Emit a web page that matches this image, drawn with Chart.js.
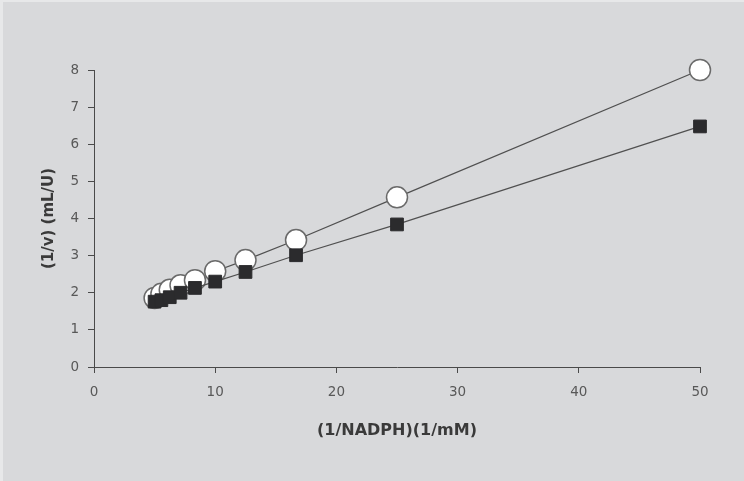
<!DOCTYPE html>
<html>
<head>
<meta charset="utf-8">
<script src="https://cdn.jsdelivr.net/npm/chart.js@4"></script>
<style>
    html, body { margin: 0; padding: 0; background: #e7e8e9; }
    #wrap { position: absolute; left: 3px; top: 2px; width: 741px; height: 479px; background: #d8d9db; }
</style>
</head>
<body>
<div id="wrap"><canvas id="chart" width="741" height="479"></canvas></div>
<script>
// 1/[NADPH] (1/mM)
const xValues = [5, 5.56, 6.25, 7.14, 8.33, 10, 12.5, 16.67, 25, 50];
// 1/v (mL/U), open circles
const circleValues = [1.86, 1.97, 2.08, 2.2, 2.34, 2.58, 2.88, 3.42, 4.57, 8.0];
// 1/v (mL/U), filled squares
const squareValues = [1.76, 1.8, 1.88, 2.0, 2.13, 2.3, 2.56, 3.01, 3.84, 6.48];
const xTicks = [0, 10, 20, 30, 40, 50];
const yTicks = [0, 1, 2, 3, 4, 5, 6, 7, 8];

const toPoints = vals => xValues.map((x, i) => ({ x: x, y: vals[i] }));

const axisColor = '#4a4a4a';
const tickFont = { family: 'DejaVu Sans, sans-serif', size: 13.5 };
const xTitleFont = { family: 'DejaVu Sans, sans-serif', size: 16, weight: 'bold' };
const yTitleFont = { family: 'DejaVu Sans, sans-serif', size: 15, weight: 'bold' };

new Chart(document.getElementById('chart').getContext('2d'), {
    type: 'scatter',
    data: {
        datasets: [{
            label: 'squares',
            data: toPoints(squareValues),
            showLine: true,
            tension: 0,
            borderColor: '#505050',
            borderWidth: 1.2,
            pointStyle: 'rect',
            pointRadius: 9,
            pointHoverRadius: 9,
            pointBackgroundColor: '#2b2b2d',
            pointBorderColor: '#2b2b2d',
            pointBorderWidth: 1,
            clip: false
        }, {
            label: 'circles',
            data: toPoints(circleValues),
            showLine: true,
            tension: 0,
            borderColor: '#505050',
            borderWidth: 1.2,
            pointStyle: 'circle',
            pointRadius: 10.5,
            pointHoverRadius: 10.5,
            pointBackgroundColor: '#ffffff',
            pointBorderColor: '#6a6a6a',
            pointBorderWidth: 1.5,
            clip: false
        }]
    },
    options: {
        responsive: false,
        animation: false,
        layout: {
            padding: { left: 27, top: 68, right: 44, bottom: 0 }
        },
        plugins: {
            legend: { display: false },
            tooltip: { enabled: false }
        },
        scales: {
            x: {
                type: 'linear',
                min: 0,
                max: 50,
                afterBuildTicks: scale => { scale.ticks = xTicks.map(v => ({ value: v })); },
                afterFit: scale => { scale.height = 114; },
                grid: { display: true, drawOnChartArea: false, drawTicks: true, tickLength: 6, color: axisColor },
                border: { display: true, color: axisColor, width: 1 },
                ticks: { color: '#585858', font: tickFont, padding: 11, maxRotation: 0 },
                title: {
                    display: true,
                    text: '(1/NADPH)(1/mM)',
                    color: '#3a3a3a',
                    font: xTitleFont,
                    padding: { top: 4, bottom: 41 }
                }
            },
            y: {
                type: 'linear',
                min: 0,
                max: 8,
                afterBuildTicks: scale => { scale.ticks = yTicks.map(v => ({ value: v })); },
                afterFit: scale => { scale.width = 64; },
                grid: { display: true, drawOnChartArea: false, drawTicks: true, tickLength: 6, color: axisColor },
                border: { display: true, color: axisColor, width: 1 },
                ticks: { color: '#585858', font: tickFont, padding: 9 },
                title: {
                    display: true,
                    text: '(1/v) (mL/U)',
                    color: '#3a3a3a',
                    font: yTitleFont,
                    padding: { top: 10, bottom: 0 }
                }
            }
        }
    }
});
</script>
</body>
</html>
